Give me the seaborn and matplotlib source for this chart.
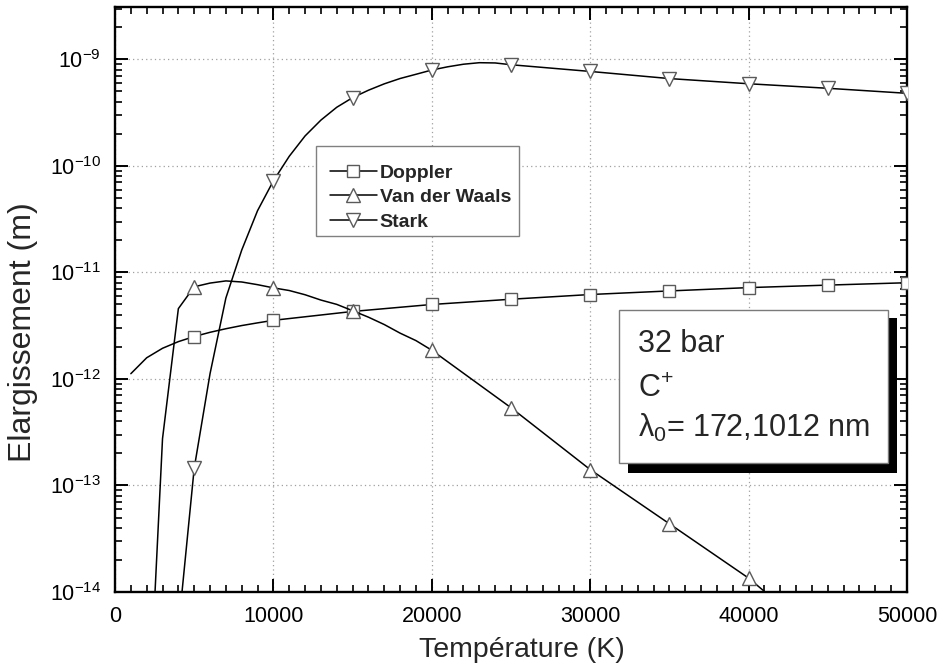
import numpy as np
import pandas as pd
import matplotlib
matplotlib.use('Agg')
import matplotlib.pyplot as plt
import seaborn as sns
from matplotlib.ticker import MultipleLocator, FixedLocator, NullFormatter, LogFormatterSciNotation
from matplotlib.patches import Rectangle
from matplotlib.lines import Line2D

# ---------------- data ----------------
T_doppler = [1000, 2000, 3000, 4000, 5000, 6000, 7000, 8000, 9000, 10000,
             15000, 20000, 25000, 30000, 35000, 40000, 45000, 50000]
doppler = [1.12e-12, 1.58e-12, 1.94e-12, 2.24e-12, 2.50e-12, 2.74e-12, 2.96e-12,
           3.17e-12, 3.36e-12, 3.55e-12, 4.30e-12, 5.0e-12, 5.6e-12, 6.2e-12,
           6.7e-12, 7.2e-12, 7.6e-12, 8.0e-12]

T_vdw = [2000, 3000, 4000, 5000, 6000, 7000, 8000, 9000, 10000, 11000, 12000,
         13000, 14000, 15000, 16000, 17000, 18000, 19000, 20000, 25000, 30000,
         35000, 40000, 45000]
vdw = [2.5e-16, 2.75e-13, 4.57e-12, 7.33e-12, 7.94e-12, 8.32e-12, 8.13e-12,
       7.67e-12, 7.16e-12, 6.76e-12, 6.17e-12, 5.50e-12, 5.01e-12, 4.37e-12,
       3.80e-12, 3.24e-12, 2.69e-12, 2.29e-12, 1.86e-12, 5.37e-13, 1.41e-13,
       4.37e-14, 1.35e-14, 3.2e-15]

T_stark = [4000, 5000, 6000, 7000, 8000, 9000, 10000, 11000, 12000, 13000,
           14000, 15000, 16000, 17000, 18000, 19000, 20000, 21000, 22000, 23000,
           24000, 25000, 30000, 35000, 40000, 45000, 50000]
stark = [4.5e-15, 1.45e-13, 1.12e-12, 5.75e-12, 1.62e-11, 3.8e-11, 7.24e-11,
         1.23e-10, 1.91e-10, 2.69e-10, 3.55e-10, 4.37e-10, 5.13e-10, 5.89e-10,
         6.61e-10, 7.24e-10, 7.94e-10, 8.51e-10, 9.0e-10, 9.3e-10, 9.25e-10,
         8.9e-10, 7.7e-10, 6.6e-10, 5.9e-10, 5.35e-10, 4.8e-10]

series_names = ["Doppler", "Van der Waals", "Stark"]
x_ticks = [0, 10000, 20000, 30000, 40000, 50000]
y_ticks = [1e-14, 1e-13, 1e-12, 1e-11, 1e-10, 1e-9]
box_lines = ["32 bar", r"$\mathregular{C^{+}}$", r"$\mathregular{λ_{0}}$= 172,1012 nm"]

# ---------------- style ----------------
sns.set_style('ticks')
plt.rcParams['font.family'] = ['Liberation Sans', 'DejaVu Sans']
plt.rcParams['mathtext.fontset'] = 'custom'
plt.rcParams['mathtext.rm'] = 'Liberation Sans'
plt.rcParams['mathtext.it'] = 'Liberation Sans:italic'
plt.rcParams['mathtext.bf'] = 'Liberation Sans:bold'
plt.rcParams['mathtext.default'] = 'regular'
plt.rcParams['axes.unicode_minus'] = False

W, H = 943, 668
fig = plt.figure(figsize=(W / 100, H / 100), dpi=100)
ax = fig.add_axes([115 / W, 1 - 592 / H, 792 / W, 585 / H])

MEC = '#5a5a5a'
specs = [
    (T_doppler, doppler, 's', 8.5),
    (T_vdw, vdw, '^', 10.5),
    (T_stark, stark, 'v', 10.5),
]
handles = []
for (T, V, mk, ms), name in zip(specs, series_names):
    df = pd.DataFrame({'T': T, 'V': V})
    mask = [t % 5000 == 0 for t in T]
    sns.lineplot(data=df, x='T', y='V', ax=ax, color='black', lw=1.1,
                 marker=mk, markevery=mask, markersize=ms,
                 markerfacecolor='white', markeredgecolor=MEC,
                 markeredgewidth=1.0, zorder=3, legend=False)
    handles.append(Line2D([], [], color='black', lw=1.1, marker=mk,
                          markersize=ms * 0.95, markerfacecolor='white',
                          markeredgecolor=MEC, markeredgewidth=1.0))

ax.set_yscale('log')
ax.set_xlim(0, 50000)
ax.set_ylim(1e-14, 3.1e-9)
ax.set_xticks(x_ticks)
ax.set_xticklabels([str(v) for v in x_ticks])
ax.xaxis.set_minor_locator(MultipleLocator(1000))
ax.yaxis.set_major_locator(FixedLocator(y_ticks))
ax.yaxis.set_major_formatter(LogFormatterSciNotation())
minor_y = [m * d for d in [1e-14, 1e-13, 1e-12, 1e-11, 1e-10, 1e-9] for m in range(2, 10)
           if m * d <= 3.1e-9]
ax.yaxis.set_minor_locator(FixedLocator(minor_y))
ax.yaxis.set_minor_formatter(NullFormatter())

ax.tick_params(which='both', direction='in', top=True, right=True, colors='black')
ax.tick_params(which='major', length=9.5, width=1.4, labelsize=15.5, pad=10)
ax.tick_params(which='minor', length=5, width=1.2)
for s in ax.spines.values():
    s.set_linewidth(1.7)
    s.set_color('black')

ax.grid(True, which='major', linestyle=(0, (1, 2.5)), color='#a0a0a0', lw=0.9)
ax.set_axisbelow(True)

ax.set_xlabel("Température (K)", fontsize=20.5)
ax.set_ylabel("Elargissement (m)", fontsize=23)
ax.xaxis.set_label_coords(0.514, -0.077)
ax.yaxis.set_label_coords(-0.097, 0.445)

# legend frame (drawn separately) and frameless legend
frame = Rectangle((316 / W, 1 - 236 / H), (519 - 316) / W, (236 - 146) / H,
                  transform=fig.transFigure, facecolor='white', edgecolor='#808080',
                  lw=1.0, zorder=7, clip_on=False)
ax.add_patch(frame)
leg = ax.legend(handles, series_names, loc='upper left',
                bbox_to_anchor=(330 / W, 1 - 164 / H), bbox_transform=fig.transFigure,
                frameon=False, prop={'size': 14, 'weight': 'bold'}, numpoints=1,
                handlelength=2.4, handletextpad=0.15, labelspacing=0.36,
                borderpad=0, borderaxespad=0)
leg.set_zorder(8)

# annotation box with shadow
shadow = Rectangle((628 / W, 1 - 473 / H), (897 - 628) / W, (473 - 318) / H,
                   transform=fig.transFigure, facecolor='black', edgecolor='none', zorder=5)
box = Rectangle((619 / W, 1 - 463 / H), (888 - 619) / W, (463 - 310) / H,
                transform=fig.transFigure, facecolor='white', edgecolor='#7a7a7a',
                lw=1.0, zorder=6)
fig.add_artist(shadow)
fig.add_artist(box)
for txt, yb in zip(box_lines, [352, 397, 437]):
    fig.text(638 / W, 1 - yb / H, txt, fontsize=22, va='baseline', ha='left', zorder=7)

fig.savefig('out.png', dpi=100)
